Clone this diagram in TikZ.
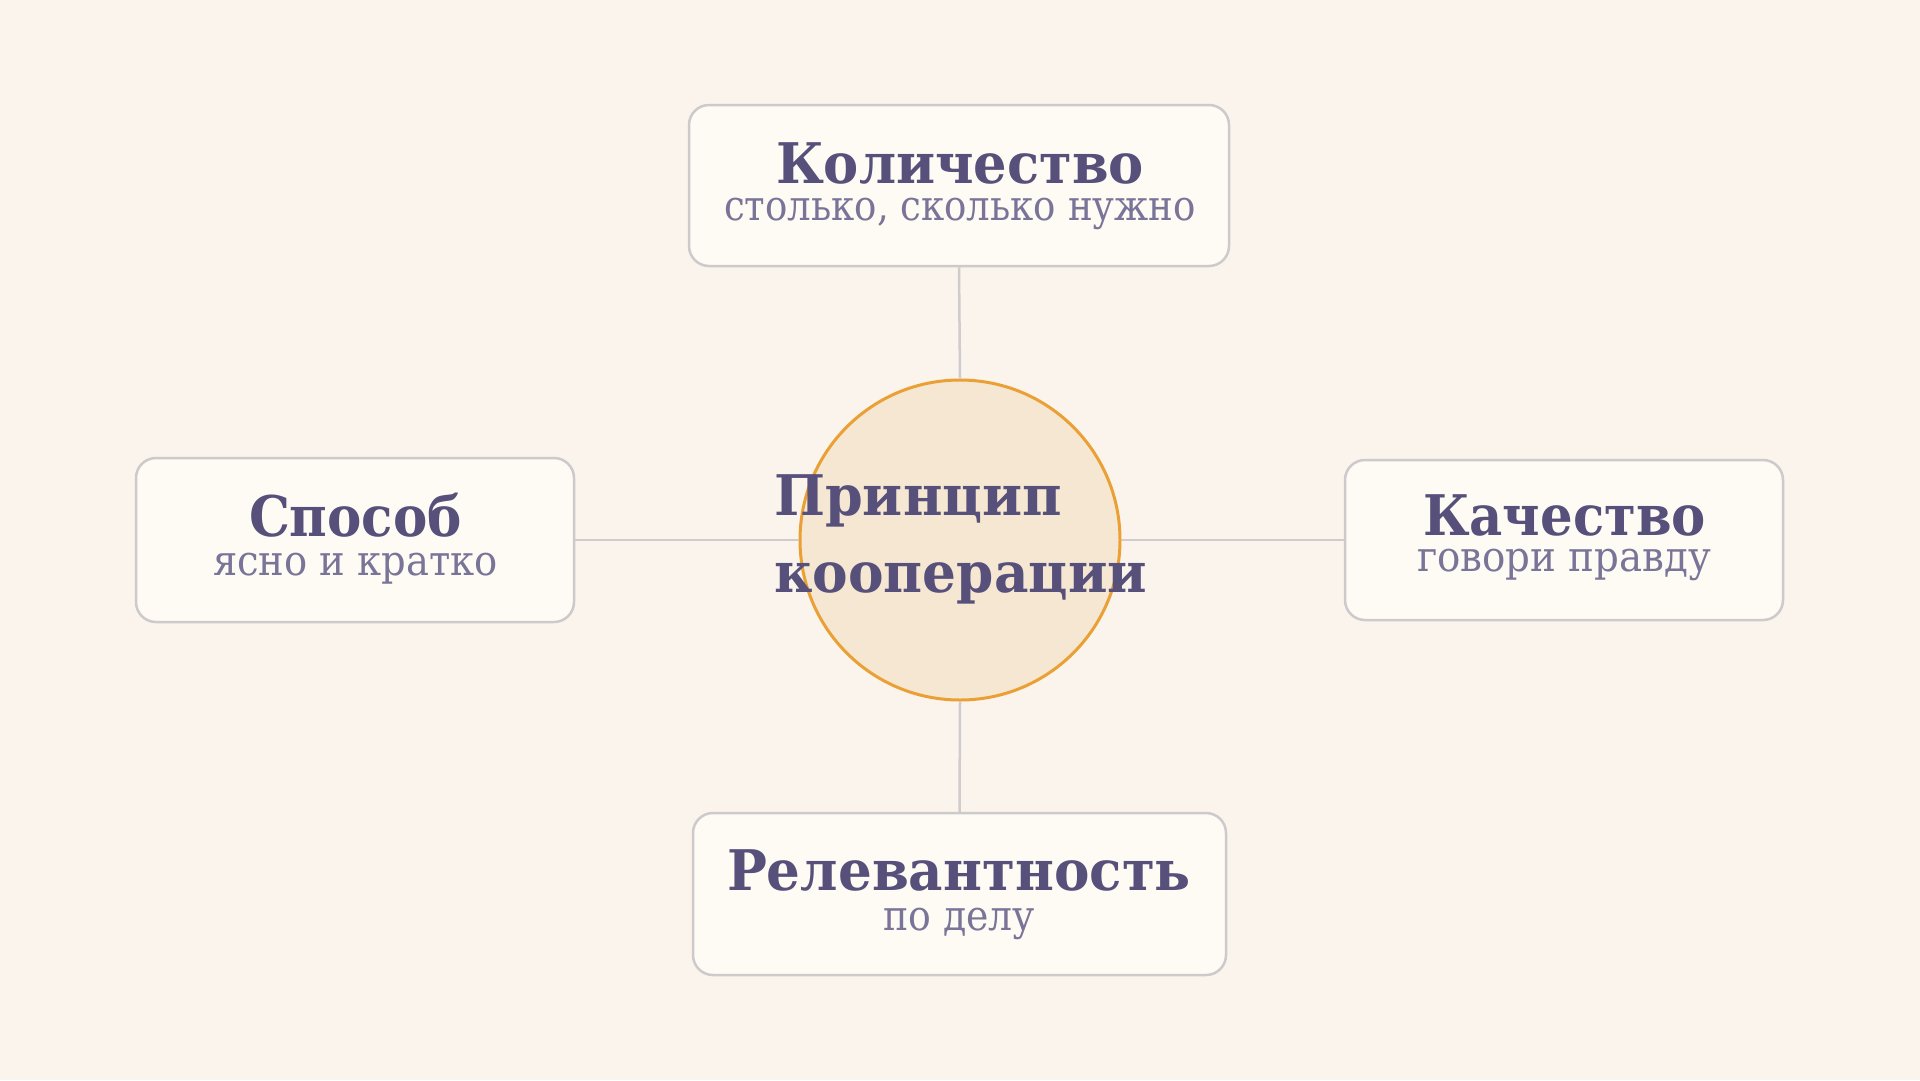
\documentclass[tikz,border=0pt]{standalone}
\usepackage{fontspec}
\usepackage{graphicx}
\setmainfont{DejaVu Serif}
\definecolor{bgc}{HTML}{FAF4EC}
\definecolor{boxfill}{HTML}{FEFAF4}
\definecolor{boxline}{HTML}{CECACC}
\definecolor{titlec}{HTML}{56507A}
\definecolor{subc}{HTML}{7A7598}
\definecolor{hubfill}{HTML}{F6E7D2}
\definecolor{hubline}{HTML}{EBA035}
\definecolor{connc}{HTML}{D0CCCE}
\newcommand{\fitw}[2]{\resizebox{#1}{\height}{#2}}
\tikzset{
  card/.style={draw=boxline, fill=boxfill, line width=2.5pt, rounded corners=20pt, inner sep=0pt},
  hubcircle/.style={circle, draw=hubline, fill=hubfill, line width=3pt, inner sep=0pt, minimum size=320pt},
  conn/.style={draw=connc, line width=2.5pt},
  ttl/.style={anchor=base, inner sep=0pt, text=titlec, font=\fontsize{56pt}{60pt}\bfseries\selectfont},
  sub/.style={anchor=base, inner sep=0pt, text=subc, font=\fontsize{42pt}{46pt}\selectfont},
  hubtxt/.style={anchor=base west, inner sep=0pt, text=titlec, font=\fontsize{56pt}{60pt}\bfseries\selectfont}
}
\begin{document}
\begin{tikzpicture}[x=1pt,y=-1pt]
\useasboundingbox (0,0) rectangle (1920,1080);
\fill[bgc] (0,0) rectangle (1920,1080);

% cards
\node[card, minimum width=540pt, minimum height=161pt] (qty) at (959,185.5) {};
\node[card, minimum width=438pt, minimum height=164pt] (way) at (355,540) {};
\node[card, minimum width=438pt, minimum height=160pt] (qual) at (1564,540) {};
\node[card, minimum width=533pt, minimum height=162pt] (rel) at (959.5,894) {};

% hub
\node[hubcircle] (hub) at (960,540) {};

% connectors
\draw[conn] (qty.south) -- (hub.north);
\draw[conn] (way.east) -- (hub.west);
\draw[conn] (hub.east) -- (qual.west);
\draw[conn] (hub.south) -- (rel.north);

% hub text
\node[hubtxt] (hubA) at (774,515) {\fitw{288pt}{Принцип}};
\node[hubtxt] (hubB) at (774,592) {\fitw{373pt}{кооперации}};

% card texts
\node[ttl] (qtyT) at (960,183) {\fitw{368pt}{Количество}};
\node[sub] (qtyS) at (960,220) {\fitw{472pt}{столько, сколько нужно}};

\node[ttl] (wayT) at (355.5,536) {\fitw{213pt}{Способ}};
\node[sub] (wayS) at (355.5,575) {\fitw{285pt}{ясно и кратко}};

\node[ttl] (qualT) at (1564.5,535) {\fitw{283pt}{Качество}};
\node[sub] (qualS) at (1564,571) {\fitw{294pt}{говори правду}};

\node[ttl] (relT) at (959,890) {\fitw{464pt}{Релевантность}};
\node[sub] (relS) at (959,930) {\fitw{152pt}{по делу}};
\end{tikzpicture}
\end{document}
